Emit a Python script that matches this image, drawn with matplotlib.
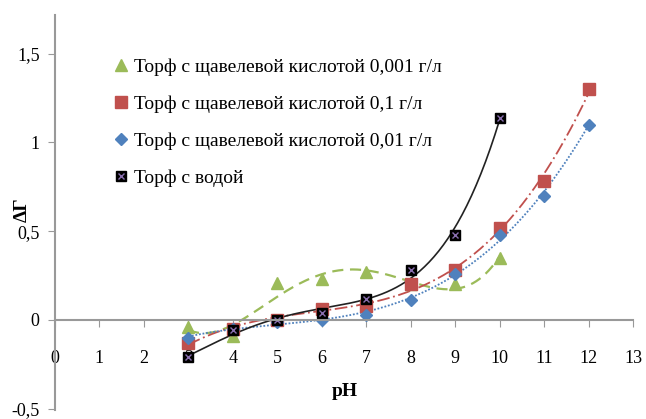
import numpy as np
import matplotlib
matplotlib.use("Agg")
import matplotlib.pyplot as plt
from matplotlib.ticker import FuncFormatter

plt.rcParams['font.family'] = ['Liberation Serif', 'DejaVu Serif']

# data
ph_a = [3, 4, 5, 6, 7, 8, 9, 10]
ph_b = [3, 4, 5, 6, 7, 8, 9, 10, 11, 12]
dg_0001 = [-0.04, -0.09, 0.21, 0.23, 0.27, 0.20, 0.20, 0.35]
dg_01 = [-0.13, -0.05, 0.00, 0.06, 0.08, 0.20, 0.28, 0.52, 0.78, 1.30]
dg_001 = [-0.10, -0.05, -0.01, 0.00, 0.03, 0.11, 0.26, 0.48, 0.70, 1.10]
dg_water = [-0.21, -0.06, 0.00, 0.04, 0.12, 0.28, 0.48, 1.14]

labels = ["Торф с щавелевой кислотой 0,001 г/л",
          "Торф с щавелевой кислотой 0,1 г/л",
          "Торф с щавелевой кислотой 0,01 г/л",
          "Торф с водой"]

green = '#9BBB59'
red = '#C0504D'
blue = '#4F81BD'

fig = plt.figure(figsize=(6.46, 4.19), dpi=100)
ax = fig.add_axes([0.085, 0.022, 0.895, 0.942])

def trend(x, y, deg, **kw):
    c = np.polyfit(x, y, deg)
    xs = np.linspace(x[0], x[-1], 200)
    ax.plot(xs, np.polyval(c, xs), **kw)

trend(ph_a, dg_0001, 4, color=green, ls=(0, (5, 3)), lw=1.6)
trend(ph_b, dg_01, 3, color=red, ls=(0, (7, 2, 1, 2)), lw=1.3)
trend(ph_b, dg_001, 3, color=blue, ls=(0, (1, 1)), lw=1.3)
trend(ph_a, dg_water, 4, color='#222222', ls='-', lw=1.2)

h1, = ax.plot(ph_a, dg_0001, '^', color=green, ms=8, ls='none')
h2, = ax.plot(ph_b, dg_01, 's', color=red, ms=8, ls='none')
h3, = ax.plot(ph_b, dg_001, 'D', color=blue, ms=6.5, ls='none')
h4a, = ax.plot(ph_a, dg_water, 's', color='black', ms=7.5, ls='none')
h4b, = ax.plot(ph_a, dg_water, 'x', color='#8a6fb0', ms=5, mew=1, ls='none')

ax.set_xlim(0, 13)
ax.set_ylim(-0.507, 1.718)
ax.set_xticks(range(0, 14))
ax.set_yticks([-0.5, 0, 0.5, 1, 1.5])
fmt = FuncFormatter(lambda v, p: ('%g' % v).replace('.', ','))
ax.yaxis.set_major_formatter(fmt)

ax.spines['top'].set_visible(False)
ax.spines['right'].set_visible(False)
ax.spines['bottom'].set_position(('data', 0))
ax.spines['bottom'].set_color('#999999')
ax.spines['left'].set_color('#999999')
ax.spines['bottom'].set_linewidth(1.5)
ax.spines['left'].set_linewidth(1.5)
ax.tick_params(axis='x', direction='out', length=5, color='#999999', pad=17, labelsize=13)
ax.tick_params(axis='y', direction='out', length=5, color='#999999', pad=6, labelsize=13)

fig.text(0.034, 0.50, 'ΔГ', rotation=90, fontsize=14, fontweight='bold', va='center', ha='center')
fig.text(0.534, 0.065, 'pH', fontsize=14, fontweight='bold', va='center', ha='center')

ax.legend([h1, h2, h3, (h4a, h4b)], labels, loc='upper left',
          bbox_to_anchor=(0.09, 0.91), frameon=False, fontsize=14,
          handlelength=0.6, handletextpad=0.4, labelspacing=1.0, borderaxespad=0)

fig.savefig('out.png', dpi=100)
